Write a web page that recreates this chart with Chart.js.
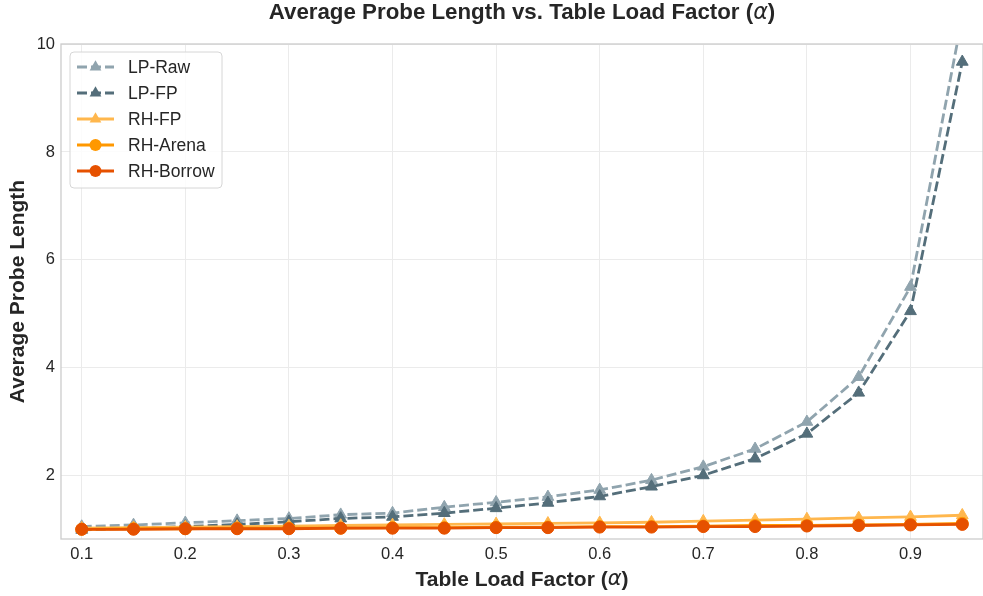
<!DOCTYPE html>
<html>
<head>
<meta charset="utf-8">
<script src="https://cdn.jsdelivr.net/npm/chart.js@4.4.1/dist/chart.umd.min.js"></script>
<style>
  html, body { margin: 0; padding: 0; background: #fff; }
  #wrap { width: 983px; height: 596px; position: relative; }
</style>
</head>
<body>
<div id="wrap"><canvas id="probeChart"></canvas></div>
<script>
// ------------------------------------------------------------------
// DATA
// ------------------------------------------------------------------
const LOAD_FACTORS = [0.10,0.15,0.20,0.25,0.30,0.35,0.40,0.45,0.50,
                      0.55,0.60,0.65,0.70,0.75,0.80,0.85,0.90,0.95];

const LP_RAW    = [1.06,1.09,1.13,1.17,1.21,1.28,1.31,1.42,1.51,1.61,1.74,1.92,2.17,2.50,3.00,3.83,5.50,10.50];
const LP_FP     = [1.00,1.03,1.06,1.10,1.15,1.21,1.24,1.31,1.40,1.50,1.62,1.80,2.01,2.32,2.78,3.54,5.05,9.67];
const RH_FP     = [1.03,1.04,1.05,1.06,1.07,1.08,1.09,1.10,1.11,1.12,1.13,1.14,1.16,1.18,1.20,1.22,1.24,1.27];
const RH_ARENA  = [1.01,1.02,1.02,1.03,1.03,1.03,1.04,1.04,1.05,1.05,1.06,1.06,1.07,1.08,1.08,1.09,1.10,1.12];
const RH_BORROW = [1.01,1.01,1.02,1.02,1.02,1.03,1.03,1.03,1.04,1.04,1.05,1.05,1.06,1.06,1.07,1.08,1.09,1.10];

const X_TICKS = [0.1,0.2,0.3,0.4,0.5,0.6,0.7,0.8,0.9];
const Y_TICKS = [2,4,6,8,10];

const TEXT_COLOR = "#262626";
const FONT = "'Liberation Sans', Arial, sans-serif";

// ------------------------------------------------------------------
function serie(label, values, color, style, dashed, order) {
    return {
        label: label,
        data: values.map((v, i) => ({ x: LOAD_FACTORS[i], y: v })),
        borderColor: color,
        backgroundColor: color,
        borderWidth: 2.8,
        borderDash: dashed ? [10, 4] : [],
        pointStyle: style,
        pointRadius: style === "triangle" ? 6.8 : 6,
        pointBorderWidth: 1,
        pointBorderColor: color,
        pointBackgroundColor: color,
        tension: 0,
        order: order
    };
}

const datasets = [
    serie("LP-Raw",    LP_RAW,    "#90a4ae", "triangle", true,  4),
    serie("LP-FP",     LP_FP,     "#546e7a", "triangle", true,  3),
    serie("RH-FP",     RH_FP,     "#ffb74d", "triangle", false, 2),
    serie("RH-Arena",  RH_ARENA,  "#ff9800", "circle",   false, 1),
    serie("RH-Borrow", RH_BORROW, "#e65100", "circle",   false, 0)
];

// ------------------------------------------------------------------
// title / labels / spines / legend drawn by hand (italic alpha, inside legend)
// ------------------------------------------------------------------
function drawMixed(ctx, parts, cx, cy, size) {
    let total = 0;
    parts.forEach(p => {
        ctx.font = (p[1] ? "italic " : "bold ") + size + "px " + (p[1] ? "'DejaVu Sans', sans-serif" : FONT);
        p.w = ctx.measureText(p[0]).width;
        total += p.w;
    });
    let x = cx - total / 2;
    parts.forEach(p => {
        ctx.font = (p[1] ? "italic " : "bold ") + size + "px " + (p[1] ? "'DejaVu Sans', sans-serif" : FONT);
        ctx.fillText(p[0], x, cy);
        x += p.w;
    });
}

function marker(ctx, style, x, y, r, color) {
    ctx.fillStyle = color;
    ctx.beginPath();
    if (style === "triangle") {
        for (let k = 0; k < 3; k++) {
            const a = k * 2 * Math.PI / 3;
            const px = x + Math.sin(a) * r, py = y - Math.cos(a) * r;
            k === 0 ? ctx.moveTo(px, py) : ctx.lineTo(px, py);
        }
        ctx.closePath();
    } else {
        ctx.arc(x, y, r, 0, Math.PI * 2);
    }
    ctx.fill();
}

const decorPlugin = {
    id: "decor",
    afterDraw(chart) {
        const ctx = chart.ctx;
        const a = chart.chartArea;
        ctx.save();

        // spines
        ctx.strokeStyle = "#cccccc";
        ctx.lineWidth = 1.3;
        ctx.strokeRect(a.left, a.top, a.right - a.left, a.bottom - a.top);

        // title
        ctx.fillStyle = TEXT_COLOR;
        ctx.textBaseline = "middle";
        drawMixed(ctx, [["Average Probe Length vs. Table Load Factor (", false], ["\u03b1", true], [")", false]],
                  (a.left + a.right) / 2, 13, 22.3);

        // x label
        drawMixed(ctx, [["Table Load Factor (", false], ["\u03b1", true], [")", false]],
                  (a.left + a.right) / 2, 580, 21);

        // y label
        ctx.save();
        ctx.translate(18, (a.top + a.bottom) / 2);
        ctx.rotate(-Math.PI / 2);
        ctx.textAlign = "center";
        ctx.font = "bold 21px " + FONT;
        ctx.fillText("Average Probe Length", 0, 0);
        ctx.restore();

        // legend
        const bx = 70, by = 52, bw = 152, bh = 136;
        ctx.beginPath();
        ctx.roundRect(bx, by, bw, bh, 4);
        ctx.fillStyle = "rgba(255,255,255,0.85)";
        ctx.fill();
        ctx.strokeStyle = "#d6d6d6";
        ctx.lineWidth = 1;
        ctx.stroke();

        datasets.forEach((d, i) => {
            const y = 67 + i * 26;
            ctx.strokeStyle = d.borderColor;
            ctx.lineWidth = d.borderWidth;
            ctx.setLineDash(d.borderDash);
            ctx.beginPath();
            ctx.moveTo(77, y);
            ctx.lineTo(114, y);
            ctx.stroke();
            ctx.setLineDash([]);
            marker(ctx, d.pointStyle, 95.5, y, d.pointRadius, d.borderColor);
            ctx.fillStyle = TEXT_COLOR;
            ctx.font = "17.5px " + FONT;
            ctx.textAlign = "left";
            ctx.fillText(d.label, 128, y + 1);
        });

        ctx.restore();
    }
};

// ------------------------------------------------------------------
const probeChart = new Chart(document.getElementById("probeChart").getContext("2d"), {
    type: "line",
    data: { datasets: datasets },
    options: {
        responsive: true,
        maintainAspectRatio: false,
        animation: false,
        layout: { autoPadding: false, padding: { top: 44, right: 0, left: 0, bottom: 0 } },
        plugins: {
            legend: { display: false },
            title: { display: false },
            tooltip: { enabled: false }
        },
        scales: {
            x: {
                type: "linear",
                min: 0.08,
                max: 0.97,
                afterBuildTicks: s => { s.ticks = X_TICKS.map(v => ({ value: v })); },
                afterFit: s => { s.height = 57; s.paddingRight = 0; s.paddingLeft = 0; },
                ticks: {
                    color: TEXT_COLOR,
                    font: { size: 16.5, family: FONT },
                    padding: 6,
                    maxRotation: 0,
                    callback: v => v.toFixed(1)
                },
                grid: { color: "#ebebeb", lineWidth: 1, drawTicks: false },
                border: { display: false }
            },
            y: {
                min: 0.83,
                max: 10,
                afterBuildTicks: s => { s.ticks = Y_TICKS.map(v => ({ value: v })); },
                afterFit: s => { s.width = 61; s.paddingTop = 0; s.paddingBottom = 0; },
                ticks: {
                    color: TEXT_COLOR,
                    font: { size: 16.5, family: FONT },
                    padding: 6
                },
                grid: { color: "#ebebeb", lineWidth: 1, drawTicks: false },
                border: { display: false }
            }
        }
    },
    plugins: [decorPlugin]
});
</script>
</body>
</html>
